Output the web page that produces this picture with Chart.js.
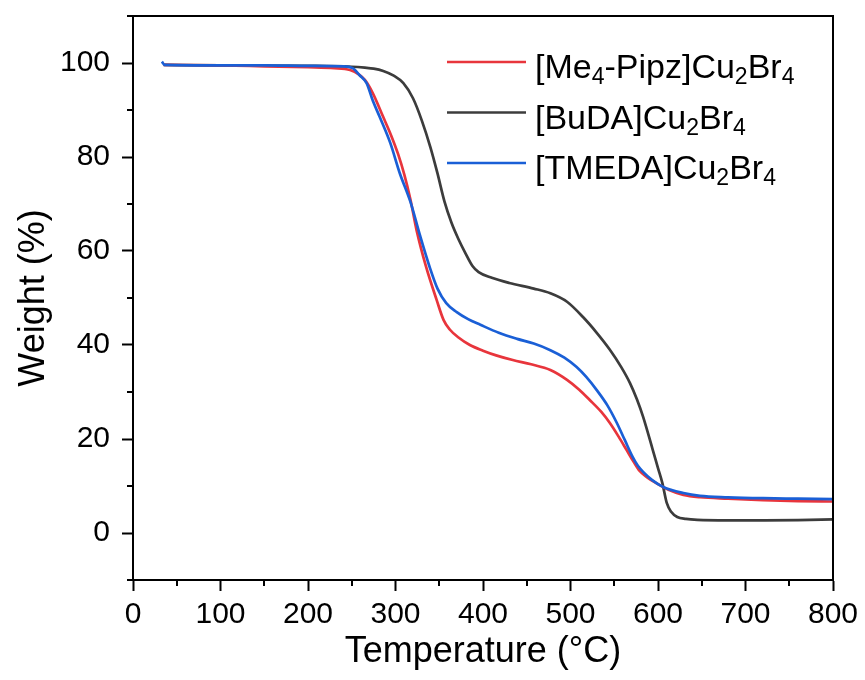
<!DOCTYPE html>
<html>
<head>
<meta charset="utf-8">
<script src="https://cdn.jsdelivr.net/npm/chart.js@4"></script>
<style>
  html, body { margin: 0; padding: 0; background: #fff; }
  #wrap { width: 865px; height: 680px; }
</style>
</head>
<body>
<div id="wrap"><canvas id="tga" width="865" height="680"></canvas></div>
<script>
// TGA curves (temperature in °C, weight in %)
const pipzTemp = [35, 100, 150, 200, 230, 248, 258, 265, 274, 286, 295, 303, 310, 317, 324, 335, 347, 355, 362, 372, 385, 400, 415, 434, 455, 477, 496, 510, 522, 535, 545, 555, 564, 572, 579, 588, 598, 612, 629, 648, 680, 720, 760, 800];
const pipzWeight = [99.6, 99.5, 99.3, 99.1, 98.9, 98.5, 97.6, 96.4, 93.6, 88.5, 84.6, 80.6, 76.3, 71, 64.5, 56.6, 49.6, 45.3, 43.3, 41.6, 40.0, 38.8, 37.8, 36.8, 35.9, 34.7, 32.6, 30.5, 28.3, 25.8, 23.4, 20.5, 17.7, 15.2, 13.2, 11.8, 10.6, 9.2, 8.1, 7.6, 7.3, 7.0, 6.8, 6.7];

const budaTemp = [35, 100, 200, 250, 265, 275, 286, 298, 309, 320, 330, 340, 348, 356, 364, 372, 380, 388, 395, 410, 430, 458, 477, 496, 514, 530, 545, 558, 568, 576, 583, 594, 600, 605, 610, 615, 622, 632, 645, 680, 720, 760, 800];
const budaWeight = [99.6, 99.5, 99.4, 99.2, 99.0, 98.8, 98.3, 97.3, 95.7, 92.5, 87.8, 82, 76.5, 70.5, 66, 62.5, 59.5, 56.8, 55.5, 54.3, 53.2, 52.0, 51, 49.2, 46, 42.6, 39, 35.3, 31.9, 28.4, 24.7, 17.7, 13.8, 10.6, 6.4, 4.5, 3.4, 3.0, 2.8, 2.7, 2.7, 2.75, 2.9];

const tmedaTemp = [33, 36, 100, 150, 200, 240, 251, 259, 267, 274, 282, 294, 305, 317, 328, 339, 348, 358, 370, 383, 397, 418, 439, 458, 477, 493, 507, 518, 530, 542, 553, 562, 571, 577, 583, 593, 606, 629, 648, 680, 720, 760, 800];
const tmedaWeight = [100.3, 99.6, 99.5, 99.5, 99.4, 99.3, 98.9, 97.4, 95.7, 92, 88.5, 83, 76.5, 70.5, 63.3, 56.6, 52, 48.9, 47, 45.5, 44.3, 42.6, 41.3, 40.3, 38.9, 37.3, 35.3, 33.2, 30.4, 27.2, 23.4, 19.8, 16.2, 14.3, 13, 11.3, 9.8, 8.5, 7.9, 7.6, 7.4, 7.3, 7.2];

// "_" marks the next character as a subscript
const seriesLabels = ["[Me_4-Pipz]Cu_2Br_4", "[BuDA]Cu_2Br_4", "[TMEDA]Cu_2Br_4"];
const seriesColors = ["#e8353c", "#3c3c3c", "#1a5fd6"];

const xMajor = [0, 100, 200, 300, 400, 500, 600, 700, 800];
const xMinor = [50, 150, 250, 350, 450, 550, 650, 750];
const yMajor = [0, 20, 40, 60, 80, 100];
const yMinor = [-10, 10, 30, 50, 70, 90, 110];

const FONT = "'Liberation Sans', Arial, sans-serif";

function toPoints(xs, ys) {
  return xs.map((x, i) => ({ x: x, y: ys[i] }));
}

function drawRich(ctx, text, x, y, size, subSize, subDrop) {
  let cx = x;
  for (let i = 0; i < text.length; i++) {
    let ch = text[i];
    let sub = false;
    if (ch === "_") { sub = true; ch = text[++i]; }
    ctx.font = (sub ? subSize : size) + "px " + FONT;
    ctx.fillText(ch, cx, sub ? y + subDrop : y);
    cx += ctx.measureText(ch).width;
  }
}

const framePlugin = {
  id: "frame",
  afterDraw(chart) {
    const { ctx, chartArea: a, scales } = chart;
    ctx.save();
    ctx.strokeStyle = "#000";
    ctx.lineWidth = 2;
    ctx.lineCap = "square";
    ctx.beginPath();
    ctx.moveTo(a.left, a.top);
    ctx.lineTo(a.right, a.top);
    ctx.lineTo(a.right, a.bottom);
    ctx.stroke();

    ctx.lineCap = "butt";
    ctx.beginPath();
    xMinor.forEach((v) => {
      const px = Math.round(scales.x.getPixelForValue(v));
      ctx.moveTo(px, a.bottom);
      ctx.lineTo(px, a.bottom + 6);
    });
    yMinor.forEach((v) => {
      const py = Math.round(scales.y.getPixelForValue(v));
      ctx.moveTo(a.left, py);
      ctx.lineTo(a.left - 6, py);
    });
    ctx.stroke();

    // legend with subscripts
    ctx.textBaseline = "alphabetic";
    ctx.fillStyle = "#000";
    seriesLabels.forEach((label, i) => {
      const ly = 62 + i * 50.5;
      ctx.strokeStyle = seriesColors[i];
      ctx.lineWidth = 2.7;
      ctx.beginPath();
      ctx.moveTo(447, ly);
      ctx.lineTo(526, ly);
      ctx.stroke();
      drawRich(ctx, label, 535, ly + 16, 34, 23, 6);
    });
    ctx.restore();
  },
};

const datasets = [
  { label: seriesLabels[0], data: toPoints(pipzTemp, pipzWeight), borderColor: seriesColors[0], order: 1 },
  { label: seriesLabels[1], data: toPoints(budaTemp, budaWeight), borderColor: seriesColors[1], order: 2 },
  { label: seriesLabels[2], data: toPoints(tmedaTemp, tmedaWeight), borderColor: seriesColors[2], order: 0 },
].map((d) => Object.assign(d, {
  borderWidth: 2.7,
  pointRadius: 0,
  fill: false,
  cubicInterpolationMode: "monotone",
}));

new Chart(document.getElementById("tga"), {
  type: "line",
  data: { datasets: datasets },
  options: {
    responsive: false,
    animation: false,
    devicePixelRatio: 1,
    layout: { padding: { top: 16, right: 32, bottom: 0, left: 0 } },
    plugins: { legend: { display: false }, tooltip: { enabled: false } },
    scales: {
      x: {
        type: "linear",
        min: 0,
        max: 800,
        afterBuildTicks: (s) => { s.ticks = xMajor.map((v) => ({ value: v })); },
        afterFit: (s) => { s.height = 100; s.paddingLeft = 0; s.paddingRight = 0; },
        ticks: { font: { family: FONT, size: 30 }, color: "#000", padding: 6, maxRotation: 0 },
        grid: { drawOnChartArea: false, drawTicks: true, tickLength: 11, tickWidth: 2, tickColor: "#000" },
        border: { display: true, width: 2, color: "#000" },
        title: { display: true, text: "Temperature (°C)", color: "#000", font: { family: FONT, size: 36 }, padding: { top: 0, bottom: 6 } },
      },
      y: {
        min: -10,
        max: 110,
        afterBuildTicks: (s) => { s.ticks = yMajor.map((v) => ({ value: v })); },
        afterFit: (s) => { s.width = 133; s.paddingTop = 0; s.paddingBottom = 0; },
        ticks: { font: { family: FONT, size: 30 }, color: "#000", padding: 12 },
        grid: { drawOnChartArea: false, drawTicks: true, tickLength: 11, tickWidth: 2, tickColor: "#000" },
        border: { display: true, width: 2, color: "#000" },
        title: { display: true, text: "Weight (%)", color: "#000", font: { family: FONT, size: 36 }, padding: { top: 12, bottom: 0 } },
      },
    },
  },
  plugins: [framePlugin],
});
</script>
</body>
</html>
